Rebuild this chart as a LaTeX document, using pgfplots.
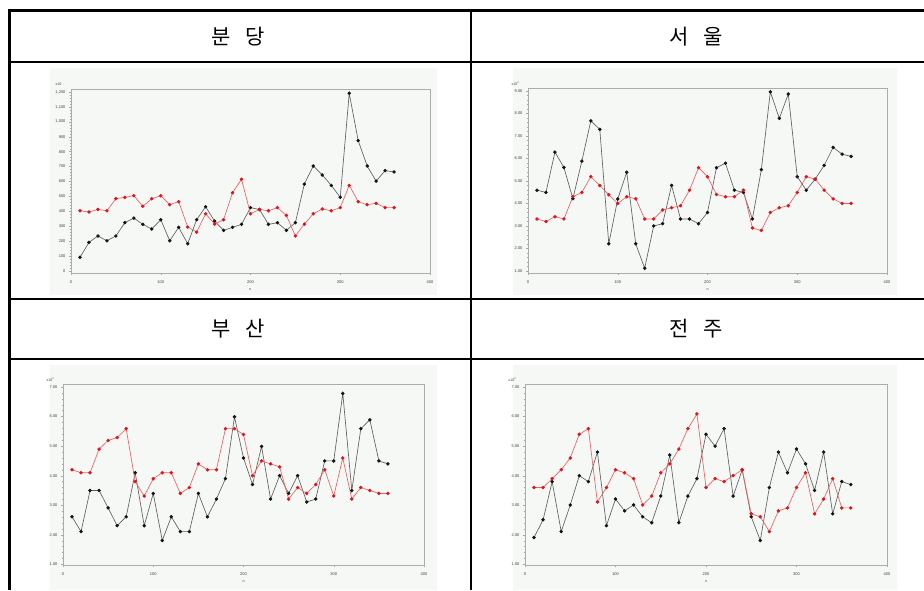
\documentclass[border=0pt]{standalone}
\usepackage{fontspec}
\setmainfont{Liberation Sans}
\newfontfamily\kr{Noto Sans CJK KR}
\usepackage{pgfplots}
\pgfplotsset{compat=1.18}
\definecolor{bgc}{RGB}{245,248,245}
\definecolor{blk}{RGB}{20,20,20}
\definecolor{blkline}{RGB}{95,95,95}
\definecolor{redm}{RGB}{225,20,30}
\definecolor{redline}{RGB}{240,95,95}
\pgfplotsset{
  panel/.style={
    scale only axis, xmin=0, xmax=400,
    xtick={0,100,200,300,400}, xticklabels={0,100,200,300,400},
    minor x tick num=9, minor y tick num=4,
    axis line style={gray!65, line width=0.7pt},
    every tick/.style={gray!70, line width=0.35pt},
    major tick length=2pt, minor tick length=1.2pt,
    tick align=outside, xtick pos=bottom, ytick pos=left,
    tick label style={font=\fontsize{4}{4.5}\selectfont, text=black!75},
    /pgf/number format/assume math mode=true,
    xticklabel style={yshift=-2pt},
    axis background/.style={fill=bgc},
    clip=false,
  },
  blackser/.style={color=blkline, line width=0.65pt, mark=*, mark size=1.4pt, mark options={fill=blk, draw=blk}},
  redser/.style={color=redline, line width=0.65pt, mark=*, mark size=1.4pt, mark options={fill=redm, draw=redm}},
}
\begin{document}
\begin{tikzpicture}[x=1pt,y=1pt]
\path[use as bounding box] (0pt,0pt) rectangle (924pt,590pt);
% chart background regions
\fill[bgc] (50pt,295pt) rectangle (437pt,522pt);
\fill[bgc] (513pt,295pt) rectangle (897pt,522pt);
\fill[bgc] (50pt,0pt) rectangle (437pt,225pt);
\fill[bgc] (513pt,0pt) rectangle (897pt,225pt);

% Panel 1: Bundang
\begin{axis}[panel, at={(71pt,317pt)}, anchor=south west, width=359pt, height=184pt,
  ymin=-13, ymax=1220, ytick={0,100,...,1200},
  yticklabels={0,100,200,300,400,500,600,700,800,900,{1,000},{1,100},{1,200}}]
\addplot[blackser] coordinates {(10,92)(20,192)(30,235)(40,203)(50,235)(60,324)(70,355)(80,313)(90,282)(100,344)(110,203)(120,293)(130,183)(140,344)(150,431)(160,335)(170,273)(180,293)(190,313)(200,425)(210,413)(220,313)(230,324)(240,273)(250,324)(260,583)(270,704)(280,644)(290,574)(300,494)(310,1191)(320,874)(330,704)(340,603)(350,673)(360,664)};
\addplot[redser] coordinates {(10,404)(20,396)(30,413)(40,404)(50,485)(60,494)(70,505)(80,434)(90,485)(100,505)(110,445)(120,465)(130,295)(140,261)(150,384)(160,315)(170,344)(180,525)(190,615)(200,384)(210,413)(220,404)(230,425)(240,373)(250,235)(260,315)(270,384)(280,416)(290,404)(300,425)(310,574)(320,465)(330,445)(340,454)(350,425)(360,425)};
\node[font=\fontsize{3.6}{4}\selectfont, text=black!75] at (rel axis cs:-0.035,1.025) {x10};
\node[font=\fontsize{3.6}{4}\selectfont, text=black!75] at (rel axis cs:0.5,-0.09) {n};
\end{axis}

% Panel 2: Seoul
\begin{axis}[panel, at={(528pt,317pt)}, anchor=south west, width=359pt, height=185pt,
  ymin=91, ymax=913, ytick={100,200,...,900},
  yticklabels={1.00,2.00,3.00,4.00,5.00,6.00,7.00,8.00,9.00}]
\addplot[blackser] coordinates {(10,459)(20,449)(30,628)(40,560)(50,421)(60,588)(70,767)(80,729)(90,221)(100,420)(110,539)(120,221)(130,112)(140,300)(150,310)(160,480)(170,331)(180,331)(190,310)(200,360)(210,559)(220,579)(230,459)(240,449)(250,331)(260,550)(270,896)(280,778)(290,886)(300,519)(310,459)(320,508)(330,569)(340,649)(350,619)(360,609)};
\addplot[redser] coordinates {(10,331)(20,320)(30,341)(40,331)(50,430)(60,449)(70,519)(80,480)(90,439)(100,400)(110,430)(120,421)(130,331)(140,331)(150,371)(160,381)(170,390)(180,459)(190,559)(200,519)(210,440)(220,430)(230,430)(240,459)(250,291)(260,280)(270,360)(280,381)(290,390)(300,449)(310,519)(320,508)(330,459)(340,420)(350,400)(360,400)};
\node[font=\fontsize{3.6}{4}\selectfont, text=black!75] at (rel axis cs:-0.035,1.025) {x10\textsuperscript{2}};
\node[font=\fontsize{3.6}{4}\selectfont, text=black!75] at (rel axis cs:0.5,-0.09) {n};
\end{axis}

% Panel 3: Busan
\begin{axis}[panel, at={(63pt,25pt)}, anchor=south west, width=361pt, height=181pt,
  ymin=98, ymax=710, ytick={100,200,...,700},
  yticklabels={1.00,2.00,3.00,4.00,5.00,6.00,7.00}]
\addplot[blackser] coordinates {(10,261)(20,211)(30,350)(40,350)(50,291)(60,231)(70,261)(80,410)(90,231)(100,340)(110,181)(120,261)(130,211)(140,211)(150,340)(160,261)(170,321)(180,390)(190,599)(200,460)(210,370)(220,499)(230,321)(240,400)(250,340)(260,400)(270,311)(280,321)(290,450)(300,450)(310,678)(320,350)(330,559)(340,589)(350,450)(360,440)};
\addplot[redser] coordinates {(10,420)(20,410)(30,410)(40,490)(50,519)(60,529)(70,559)(80,380)(90,331)(100,390)(110,410)(120,410)(130,340)(140,360)(150,440)(160,420)(170,420)(180,559)(190,559)(200,539)(210,400)(220,450)(230,440)(240,430)(250,321)(260,360)(270,340)(280,370)(290,420)(300,331)(310,460)(320,321)(330,360)(340,350)(350,340)(360,340)};
\node[font=\fontsize{3.6}{4}\selectfont, text=black!75] at (rel axis cs:-0.035,1.025) {x10\textsuperscript{2}};
\node[font=\fontsize{3.6}{4}\selectfont, text=black!75] at (rel axis cs:0.5,-0.09) {n};
\end{axis}

% Panel 4: Jeonju
\begin{axis}[panel, at={(525pt,25pt)}, anchor=south west, width=362pt, height=181pt,
  ymin=98, ymax=710, ytick={100,200,...,700},
  yticklabels={1.00,2.00,3.00,4.00,5.00,6.00,7.00}]
\addplot[blackser] coordinates {(10,191)(20,251)(30,380)(40,211)(50,301)(60,400)(70,380)(80,480)(90,231)(100,321)(110,281)(120,301)(130,261)(140,241)(150,331)(160,470)(170,241)(180,331)(190,390)(200,540)(210,500)(220,559)(230,331)(240,420)(250,261)(260,181)(270,360)(280,480)(290,410)(300,490)(310,440)(320,350)(330,480)(340,271)(350,380)(360,370)};
\addplot[redser] coordinates {(10,360)(20,360)(30,390)(40,420)(50,460)(60,540)(70,559)(80,311)(90,360)(100,420)(110,410)(120,390)(130,301)(140,331)(150,410)(160,440)(170,490)(180,559)(190,609)(200,360)(210,390)(220,380)(230,400)(240,420)(250,271)(260,261)(270,211)(280,281)(290,291)(300,360)(310,410)(320,271)(330,321)(340,390)(350,291)(360,291)};
\node[font=\fontsize{3.6}{4}\selectfont, text=black!75] at (rel axis cs:-0.035,1.025) {x10\textsuperscript{2}};
\node[font=\fontsize{3.6}{4}\selectfont, text=black!75] at (rel axis cs:0.5,-0.09) {n};
\end{axis}

% table frame
\draw[line width=3pt] (7.5pt,579pt) -- (924pt,579pt);
\draw[line width=3pt] (9pt,580.5pt) -- (9pt,0pt);
\draw[line width=1.3pt] (9pt,528pt) -- (924pt,528pt);
\draw[line width=1.3pt] (9pt,291pt) -- (924pt,291pt);
\draw[line width=1.3pt] (9pt,231pt) -- (924pt,231pt);
\draw[line width=1.8pt] (471pt,579pt) -- (471pt,0pt);

% headers
\node[font=\kr\fontsize{21}{24}\selectfont] at (238pt,553.5pt) {분\hspace{0.7em}당};
\node[font=\kr\fontsize{21}{24}\selectfont] at (696pt,553.5pt) {서\hspace{0.7em}울};
\node[font=\kr\fontsize{21}{24}\selectfont] at (238pt,261pt) {부\hspace{0.7em}산};
\node[font=\kr\fontsize{21}{24}\selectfont] at (696pt,261pt) {전\hspace{0.7em}주};
\end{tikzpicture}
\end{document}
